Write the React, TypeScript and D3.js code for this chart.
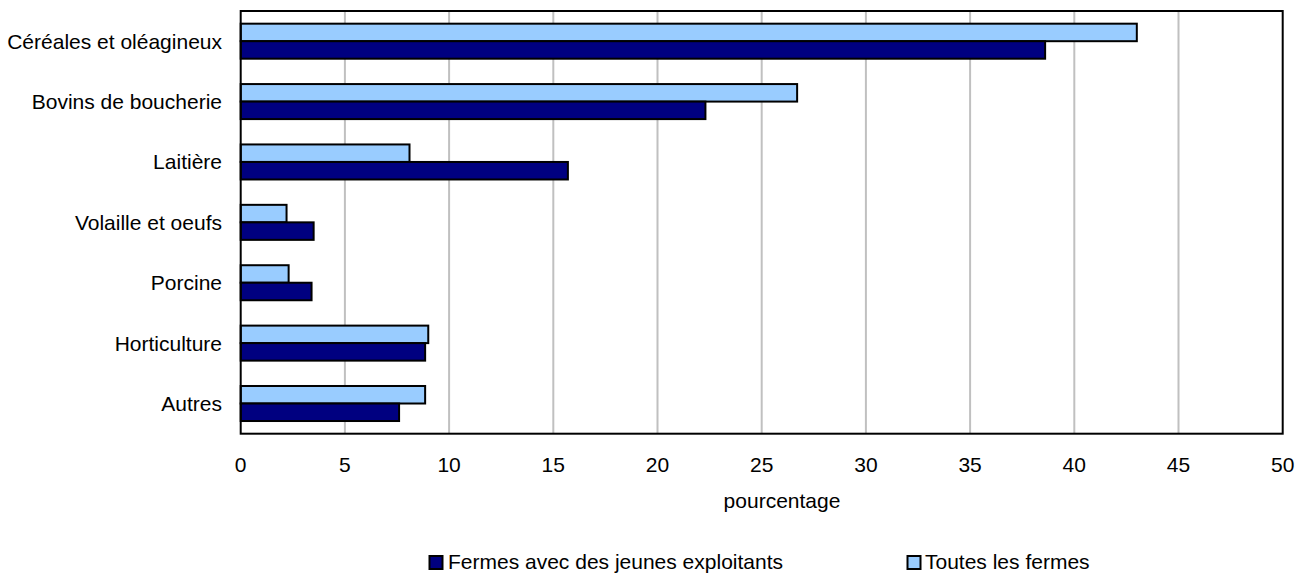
import React from "react";
import * as d3 from "d3";

const categories = [
  "Céréales et oléagineux",
  "Bovins de boucherie",
  "Laitière",
  "Volaille et oeufs",
  "Porcine",
  "Horticulture",
  "Autres",
];
const toutesLesFermes = [43.0, 26.7, 8.1, 2.2, 2.3, 9.0, 8.85];
const jeunesExploitants = [38.6, 22.3, 15.7, 3.5, 3.4, 8.85, 7.6];
const xTicks = [0, 5, 10, 15, 20, 25, 30, 35, 40, 45, 50];
const seriesNames = ["Fermes avec des jeunes exploitants", "Toutes les fermes"];

const W = 1305;
const H = 576;
const left = 240.7;
const right = 1282.7;
const top = 11;
const bottom = 433.7;
const DARK = "#000080";
const LIGHT = "#99ccff";
const FONT = "'Liberation Sans', Arial, sans-serif";

export default function App() {
  const x = d3.scaleLinear().domain([0, 50]).range([left, right]);
  const y = d3.scaleBand<string>().domain(categories).range([top, bottom]).padding(0);
  const bh = y.bandwidth() * 0.29;

  return (
    <svg
      width={W}
      height={H}
      style={{ position: "absolute", left: 0, top: 0, background: "#fff" }}
      fontFamily={FONT}
    >
      <rect x={0} y={0} width={W} height={H} fill="#fff" />
      {xTicks.slice(1, -1).map((t) => (
        <line key={"g" + t} x1={x(t)} x2={x(t)} y1={top} y2={bottom} stroke="#c0c0c0" strokeWidth={2} />
      ))}
      {categories.map((c, i) => {
        const cy = (y(c) as number) + y.bandwidth() / 2;
        return (
          <g key={c}>
            <rect
              x={x(0)}
              y={cy - bh}
              width={x(toutesLesFermes[i]) - x(0)}
              height={bh}
              fill={LIGHT}
              stroke="#000"
              strokeWidth={2}
            />
            <rect
              x={x(0)}
              y={cy}
              width={x(jeunesExploitants[i]) - x(0)}
              height={bh}
              fill={DARK}
              stroke="#000"
              strokeWidth={2}
            />
            <text x={222} y={cy + 7.5} textAnchor="end" fontSize={21} fill="#000">
              {c}
            </text>
          </g>
        );
      })}
      <rect x={left} y={top} width={right - left} height={bottom - top} fill="none" stroke="#000" strokeWidth={2} />
      {xTicks.map((t) => (
        <text key={"t" + t} x={x(t)} y={472} textAnchor="middle" fontSize={21} fill="#000">
          {t}
        </text>
      ))}
      <text x={782} y={508} textAnchor="middle" fontSize={21} fill="#000">
        pourcentage
      </text>
      <g>
        <rect x={429.5} y={556} width={13} height={13} fill={DARK} stroke="#000" strokeWidth={2} />
        <text x={448} y={569} fontSize={21} fill="#000">{seriesNames[0]}</text>
        <rect x={907.5} y={556} width={13} height={13} fill={LIGHT} stroke="#000" strokeWidth={2} />
        <text x={925} y={569} fontSize={21} fill="#000">{seriesNames[1]}</text>
      </g>
    </svg>
  );
}
